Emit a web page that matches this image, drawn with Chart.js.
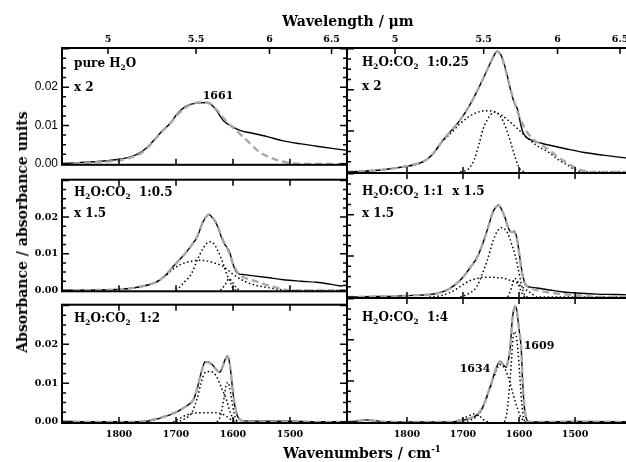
<!DOCTYPE html>
<html>
<head>
<meta charset="utf-8">
<script src="https://cdn.jsdelivr.net/npm/chart.js@4.4.0/dist/chart.umd.min.js"></script>
<style>
  html, body { margin: 0; padding: 0; background: #fff; overflow: hidden; }
  #fig { position: relative; width: 626px; height: 462px; overflow: hidden; }
  canvas { position: absolute; }
  .txt { position: absolute; font-family: "DejaVu Serif", serif; font-weight: bold; color: #000;
         white-space: pre; line-height: 1; }
  .txt sub { font-size: 62%; vertical-align: -3px; line-height: 0; }
  .txt sup { font-size: 62%; vertical-align: 6px; line-height: 0; }
  .c { transform: translate(-50%, -50%); }
  .l { transform: translateY(-50%); font-size: 12px; }
</style>
</head>
<body>
<div id="fig">
  <canvas id="c1" width="350" height="176" style="left:0;top:0"></canvas>
  <canvas id="c2" width="300" height="176" style="left:344px;top:0"></canvas>
  <canvas id="c3" width="350" height="131" style="left:0;top:170px"></canvas>
  <canvas id="c4" width="300" height="131" style="left:344px;top:170px"></canvas>
  <canvas id="c5" width="350" height="167" style="left:0;top:295px"></canvas>
  <canvas id="c6" width="300" height="167" style="left:344px;top:295px"></canvas>

  <div class="txt c" style="left:348px;top:21px;font-size:14px">Wavelength / μm</div>
  <div class="txt c" style="left:362px;top:453px;font-size:14px">Wavenumbers / cm<sup>-1</sup></div>
  <div class="txt c" style="left:22px;top:232px;font-size:14px;transform:translate(-50%,-50%) rotate(-90deg)">Absorbance / absorbance units</div>

  <div class="txt l" style="left:74px;top:63px">pure H<sub>2</sub>O</div>
  <div class="txt l" style="left:74px;top:87px">x 2</div>
  <div class="txt l" style="left:362px;top:62px">H<sub>2</sub>O:CO<sub>2</sub>  1:0.25</div>
  <div class="txt l" style="left:362px;top:86px">x 2</div>
  <div class="txt l" style="left:74px;top:192px">H<sub>2</sub>O:CO<sub>2</sub>  1:0.5</div>
  <div class="txt l" style="left:74px;top:213px">x 1.5</div>
  <div class="txt l" style="left:362px;top:191px">H<sub>2</sub>O:CO<sub>2</sub> 1:1  x 1.5</div>
  <div class="txt l" style="left:362px;top:213px">x 1.5</div>
  <div class="txt l" style="left:74px;top:318px">H<sub>2</sub>O:CO<sub>2</sub>  1:2</div>
  <div class="txt l" style="left:362px;top:317px">H<sub>2</sub>O:CO<sub>2</sub>  1:4</div>

  <div class="txt c" style="left:218px;top:95px;font-size:11px">1661</div>
  <div class="txt c" style="left:475px;top:368px;font-size:11px">1634</div>
  <div class="txt c" style="left:539px;top:345px;font-size:11px">1609</div>
</div>

<script>
// ---- axes ----
const bottomTicks = [1800, 1700, 1600, 1500];          // cm-1
const topTickMicrons = [5, 5.5, 6, 6.5];               // wavelength, um
const topTickLabels = ['5', '5.5', '6', '6.5'];
const yLabelTicks = [0, 0.01, 0.02];
const yMajorTicks = [0, 0.01, 0.02, 0.03];
const yMinorTicks = [0.0025, 0.005, 0.0075, 0.0125, 0.015, 0.0175, 0.0225, 0.025, 0.0275];

// ---- spectra: [wavenumber, absorbance] ----
// pure H2O  (x 2)
const pureObs = [[1900,0.0001],[1860,0.0004],[1820,0.0008],[1800,0.0012],[1780,0.0018],[1760,0.0032],
  [1746,0.0050],[1728,0.0080],[1710,0.0106],[1698,0.0130],[1685,0.0148],[1675,0.0155],[1660,0.0159],
  [1644,0.0160],[1635,0.0150],[1628,0.0137],[1617,0.0113],[1600,0.0096],[1585,0.0086],[1570,0.0081],
  [1540,0.0071],[1512,0.0060],[1480,0.0052],[1453,0.0046],[1420,0.0039],[1400,0.0035]];
const pureFit = [[1900,0],[1840,0.0004],[1800,0.0009],[1780,0.0016],[1760,0.0029],[1746,0.0048],
  [1728,0.0079],[1710,0.0106],[1698,0.0127],[1685,0.0145],[1670,0.0157],[1655,0.0161],[1640,0.0156],
  [1628,0.0140],[1617,0.0120],[1605,0.0101],[1593,0.0085],[1580,0.0067],[1570,0.0053],[1553,0.0030],
  [1537,0.0018],[1523,0.0010],[1500,0.0002],[1480,0],[1400,0]];

// H2O:CO2 1:0.25  (x 2)
const q25Obs = [[1907,0],[1860,0.0003],[1818,0.0010],[1790,0.0017],[1771,0.0025],[1755,0.0042],
  [1736,0.0077],[1720,0.0102],[1705,0.0127],[1690,0.0158],[1680,0.0183],[1666,0.0222],[1652,0.0263],
  [1645,0.0283],[1639,0.0294],[1633,0.0287],[1628,0.0270],[1622,0.0240],[1616,0.0205],[1609,0.0170],
  [1605,0.0160],[1602,0.0150],[1598,0.0123],[1594,0.0100],[1588,0.0086],[1575,0.0076],[1560,0.0070],
  [1545,0.0065],[1515,0.0056],[1486,0.0048],[1450,0.0041],[1402,0.0033],[1380,0.0030]];
const q25Fit = [[1907,0],[1860,0.0003],[1818,0.0010],[1790,0.0017],[1771,0.0025],[1755,0.0042],
  [1736,0.0077],[1720,0.0102],[1705,0.0127],[1690,0.0158],[1680,0.0183],[1666,0.0222],[1652,0.0263],
  [1645,0.0283],[1639,0.0294],[1633,0.0285],[1628,0.0268],[1622,0.0238],[1616,0.0205],[1607,0.0164],
  [1598,0.0130],[1586,0.0098],[1575,0.0080],[1560,0.0066],[1545,0.0052],[1530,0.0036],[1514,0.0022],
  [1500,0.0010],[1486,0.0003],[1470,0],[1380,0]];
const q25Broad = [[1907,0],[1818,0.0010],[1771,0.0025],[1755,0.0042],[1736,0.0075],[1720,0.0097],
  [1705,0.0118],[1690,0.0134],[1675,0.0145],[1660,0.0149],[1645,0.0147],[1630,0.0137],[1616,0.0122],
  [1600,0.0102],[1586,0.0084],[1570,0.0066],[1545,0.0046],[1530,0.0030],[1514,0.0017],[1497,0.0004],
  [1480,0],[1380,0]];
const q25Narrow = [[1705,0],[1690,0.0008],[1680,0.0030],[1672,0.0065],[1664,0.0105],[1652,0.0137],
  [1643,0.0146],[1635,0.0138],[1628,0.0123],[1616,0.0077],[1607,0.0036],[1598,0.0006],[1590,0]];

// H2O:CO2 1:0.5  (x 1.5)
const h05Obs = [[1900,0],[1840,0.0001],[1798,0.0003],[1763,0.0010],[1733,0.0024],[1718,0.0042],
  [1705,0.0065],[1693,0.0085],[1681,0.0106],[1672,0.0125],[1663,0.0145],[1653,0.0186],[1646,0.0203],
  [1642,0.0207],[1636,0.0198],[1628,0.0178],[1622,0.0152],[1617,0.0132],[1611,0.0118],[1606,0.0105],
  [1600,0.0072],[1595,0.0052],[1590,0.0045],[1580,0.0043],[1570,0.0041],[1540,0.0035],[1512,0.0029],
  [1480,0.0025],[1453,0.0022],[1430,0.0017],[1410,0.0012],[1404,0.0014],[1400,0.0011]];
const h05Fit = [[1900,0],[1840,0.0001],[1798,0.0003],[1763,0.0010],[1733,0.0024],[1718,0.0042],
  [1705,0.0065],[1693,0.0085],[1681,0.0106],[1672,0.0125],[1663,0.0147],[1653,0.0186],[1646,0.0203],
  [1642,0.0207],[1636,0.0199],[1628,0.0180],[1622,0.0156],[1617,0.0135],[1611,0.0118],[1606,0.0100],
  [1600,0.0072],[1594,0.0054],[1588,0.0042],[1575,0.0032],[1558,0.0024],[1545,0.0017],[1530,0.0010],
  [1515,0.0004],[1500,0],[1400,0]];
const h05Broad = [[1900,0],[1798,0.0003],[1763,0.0010],[1733,0.0024],[1718,0.0040],[1705,0.0058],
  [1690,0.0072],[1675,0.0079],[1660,0.0082],[1648,0.0081],[1635,0.0076],[1617,0.0065],[1600,0.0044],
  [1580,0.0025],[1560,0.0014],[1540,0.0008],[1515,0.0002],[1500,0],[1400,0]];
const h05Narrow = [[1700,0],[1693,0.0010],[1684,0.0025],[1675,0.0040],[1668,0.0062],[1663,0.0082],
  [1653,0.0113],[1645,0.0130],[1640,0.0133],[1634,0.0128],[1628,0.0113],[1617,0.0072],[1610,0.0040],
  [1605,0.0024],[1600,0.0005],[1595,0]];
const h05Small = [[1622,0],[1614,0.0015],[1607,0.0032],[1600,0.0020],[1593,0.0005],[1588,0]];

// H2O:CO2 1:1  (x 1.5)
const h1Obs = [[1907,0],[1860,0.0001],[1818,0.0002],[1790,0.0004],[1759,0.0006],[1740,0.0011],
  [1728,0.0017],[1714,0.0030],[1700,0.0048],[1688,0.0070],[1675,0.0096],[1668,0.0118],[1661,0.0145],
  [1654,0.0175],[1648,0.0202],[1642,0.0218],[1637,0.0224],[1631,0.0213],[1625,0.0193],[1619,0.0168],
  [1614,0.0158],[1609,0.0160],[1605,0.0150],[1602,0.0130],[1599,0.0100],[1596,0.0072],[1592,0.0045],
  [1589,0.0030],[1580,0.0024],[1568,0.0022],[1545,0.0017],[1521,0.0012],[1490,0.0009],[1461,0.0007],
  [1430,0.0006],[1402,0.0005],[1380,0.0004]];
const h1Fit = [[1907,0],[1818,0.0002],[1790,0.0004],[1759,0.0006],[1740,0.0011],[1728,0.0017],
  [1714,0.0030],[1700,0.0048],[1688,0.0070],[1675,0.0096],[1668,0.0118],[1661,0.0145],[1654,0.0175],
  [1648,0.0202],[1642,0.0218],[1637,0.0223],[1631,0.0212],[1625,0.0192],[1619,0.0168],[1614,0.0158],
  [1609,0.0158],[1605,0.0148],[1602,0.0128],[1599,0.0098],[1596,0.0068],[1592,0.0042],[1588,0.0030],
  [1580,0.0022],[1560,0.0014],[1540,0.0010],[1521,0.0007],[1490,0.0003],[1460,0],[1380,0]];
const h1Broad = [[1760,0],[1740,0.0003],[1725,0.0010],[1711,0.0020],[1700,0.0030],[1687,0.0040],
  [1675,0.0045],[1664,0.0048],[1650,0.0048],[1640,0.0047],[1628,0.0046],[1615,0.0040],[1603,0.0034],
  [1595,0.0025],[1586,0.0016],[1575,0.0006],[1568,0],[1380,0]];
const h1Narrow = [[1705,0],[1690,0.0008],[1675,0.0026],[1666,0.0055],[1657,0.0088],[1646,0.0138],
  [1638,0.0162],[1630,0.0169],[1624,0.0163],[1619,0.0152],[1613,0.0128],[1607,0.0102],[1602,0.0072],
  [1598,0.0046],[1594,0.0020],[1590,0.0005],[1585,0]];
const h1Small = [[1620,0],[1614,0.0020],[1608,0.0045],[1603,0.0040],[1597,0.0015],[1590,0]];

// H2O:CO2 1:2
const h2Obs = [[1900,0.0002],[1850,0.0001],[1800,0.0001],[1758,0.0001],[1740,0.0005],[1728,0.0010],
  [1712,0.0018],[1698,0.0026],[1685,0.0038],[1675,0.0048],[1670,0.0055],[1663,0.0085],[1658,0.0115],
  [1653,0.0142],[1649,0.0155],[1644,0.0155],[1638,0.0150],[1633,0.0142],[1627,0.0132],[1623,0.0128],
  [1619,0.0140],[1614,0.0160],[1610,0.0170],[1607,0.0160],[1604,0.0130],[1600,0.0075],[1596,0.0035],
  [1593,0.0018],[1588,0.0006],[1580,0.0003],[1540,0.0002],[1500,0.0002],[1450,0.0001],[1400,0.0001]];
const h2Fit = [[1900,0],[1800,0],[1758,0.0002],[1740,0.0006],[1728,0.0011],[1712,0.0019],
  [1698,0.0027],[1685,0.0038],[1675,0.0049],[1670,0.0057],[1663,0.0086],[1658,0.0115],[1653,0.0141],
  [1649,0.0153],[1644,0.0154],[1638,0.0149],[1633,0.0141],[1627,0.0131],[1623,0.0128],[1619,0.0139],
  [1614,0.0159],[1610,0.0169],[1607,0.0160],[1604,0.0132],[1600,0.0078],[1596,0.0038],[1593,0.0020],
  [1588,0.0007],[1580,0.0002],[1560,0],[1400,0]];
const h2A = [[1700,0],[1685,0.0008],[1672,0.0025],[1663,0.0060],[1656,0.0100],[1650,0.0126],
  [1640,0.0130],[1630,0.0120],[1620,0.0087],[1611,0.0055],[1605,0.0025],[1598,0.0006],[1592,0]];
const h2B = [[1628,0],[1622,0.0015],[1616,0.0060],[1612,0.0095],[1609,0.0102],[1606,0.0090],
  [1602,0.0055],[1598,0.0022],[1594,0.0005],[1590,0]];
const h2C = [[1705,0],[1695,0.0008],[1685,0.0016],[1672,0.0022],[1655,0.0024],[1635,0.0024],
  [1622,0.0022],[1612,0.0015],[1603,0.0006],[1596,0]];

// H2O:CO2 1:4
const h4Obs = [[1907,0],[1890,0.0002],[1875,0.0005],[1860,0.0004],[1845,0.0001],[1800,0],[1723,0],
  [1705,0.0003],[1693,0.0007],[1680,0.0013],[1670,0.0023],[1662,0.0045],[1655,0.0072],[1648,0.0100],
  [1643,0.0123],[1638,0.0140],[1634,0.0148],[1630,0.0144],[1626,0.0136],[1623,0.0133],[1620,0.0145],
  [1616,0.0177],[1612,0.0250],[1609,0.0276],[1607,0.0282],[1604,0.0272],[1602,0.0250],[1599,0.0215],
  [1596,0.0177],[1594,0.0110],[1592,0.0060],[1589,0.0020],[1586,0.0005],[1582,0],[1500,0.0001],[1380,0]];
const h4Fit = [[1907,0],[1890,0.0002],[1875,0.0004],[1860,0.0003],[1845,0],[1723,0],[1705,0.0003],
  [1693,0.0007],[1680,0.0014],[1670,0.0025],[1662,0.0046],[1655,0.0072],[1648,0.0100],[1643,0.0122],
  [1638,0.0139],[1634,0.0146],[1630,0.0143],[1626,0.0136],[1623,0.0134],[1620,0.0146],[1616,0.0178],
  [1612,0.0248],[1609,0.0275],[1607,0.0281],[1604,0.0271],[1602,0.0250],[1599,0.0216],[1596,0.0178],
  [1594,0.0115],[1592,0.0064],[1589,0.0022],[1586,0.0006],[1582,0],[1380,0]];
const h4A = [[1700,0],[1685,0.0006],[1672,0.0018],[1663,0.0040],[1655,0.0070],[1647,0.0100],
  [1640,0.0128],[1634,0.0140],[1628,0.0135],[1622,0.0120],[1616,0.0095],[1610,0.0065],[1604,0.0038],
  [1598,0.0015],[1592,0.0003],[1588,0]];
const h4B = [[1626,0],[1622,0.0020],[1618,0.0070],[1614,0.0140],[1611,0.0200],[1608,0.0220],
  [1605,0.0210],[1602,0.0175],[1599,0.0120],[1596,0.0060],[1593,0.0020],[1590,0]];
const h4C = [[1715,0],[1700,0.0008],[1688,0.0016],[1678,0.0020],[1670,0.0014],[1662,0.0004],[1655,0]];

// ---- drawing ----
const serifTick = { family: 'DejaVu Serif', weight: 'bold', size: 9.5 };
const sansTick = { family: 'Liberation Sans', size: 12 };

function line(points, kind) {
  const d = {
    data: points.map(p => ({ x: p[0], y: p[1] })),
    borderColor: '#000', borderWidth: 1.4, pointRadius: 0, fill: false,
    tension: 0.4, cubicInterpolationMode: 'monotone'
  };
  if (kind === 'fit') Object.assign(d, { borderColor: '#a8a8a8', borderWidth: 2.4, borderDash: [7, 4] });
  if (kind === 'comp') Object.assign(d, { borderWidth: 1.5, borderDash: [1.5, 2.5] });
  return d;
}

// inward tick marks and the box round each panel
const frameTicks = {
  id: 'frameTicks',
  afterDatasetsDraw(chart, args, opts) {
    const { ctx, chartArea: a, scales } = chart;
    const top = scales[opts.topScale];
    const topVals = opts.topScale === 'x2' ? topTickMicrons.map(m => 10000 / m) : bottomTicks;
    ctx.save();
    ctx.strokeStyle = '#000';
    ctx.lineWidth = 1.5;
    ctx.beginPath();
    const yTick = (v, len) => {
      const py = scales.y.getPixelForValue(v);
      ctx.moveTo(a.left, py); ctx.lineTo(a.left + len, py);
      ctx.moveTo(a.right, py); ctx.lineTo(a.right - len, py);
    };
    yMajorTicks.forEach(v => yTick(v, 7));
    yMinorTicks.forEach(v => yTick(v, 4));
    bottomTicks.forEach(v => {
      const px = scales.x.getPixelForValue(v);
      ctx.moveTo(px, a.bottom); ctx.lineTo(px, a.bottom - 6);
    });
    topVals.forEach(v => {
      const px = top.getPixelForValue(v);
      ctx.moveTo(px, a.top); ctx.lineTo(px, a.top + 6);
    });
    ctx.stroke();
    ctx.lineWidth = 2;
    ctx.strokeRect(a.left, a.top, a.right - a.left, a.bottom - a.top);
    ctx.restore();
  }
};

const panels = [
  { id: 'c1', col: 0, row: 0, obs: pureObs, fit: pureFit, comps: [] },
  { id: 'c2', col: 1, row: 0, obs: q25Obs, fit: q25Fit, comps: [q25Broad, q25Narrow] },
  { id: 'c3', col: 0, row: 1, obs: h05Obs, fit: h05Fit, comps: [h05Broad, h05Narrow, h05Small] },
  { id: 'c4', col: 1, row: 1, obs: h1Obs, fit: h1Fit, comps: [h1Broad, h1Narrow, h1Small] },
  { id: 'c5', col: 0, row: 2, obs: h2Obs, fit: h2Fit, comps: [h2A, h2B, h2C] },
  { id: 'c6', col: 1, row: 2, obs: h4Obs, fit: h4Fit, comps: [h4A, h4B, h4C] }
];

const noGrid = { display: false, drawTicks: false };

panels.forEach(p => {
  const left = p.col === 0;
  const bottomRow = p.row === 2;
  const scales = {
    x: {
      type: 'linear', reverse: true,
      min: left ? 1400 : 1377, max: left ? 1900 : 1907,
      display: bottomRow,
      grid: noGrid, border: { display: false },
      ticks: { font: serifTick, color: '#000', padding: 6, maxRotation: 0, callback: v => String(v) },
      afterBuildTicks: s => { s.ticks = bottomTicks.map(v => ({ value: v })); },
      afterFit: s => { s.height = bottomRow ? 39 : 0; }
    },
    y: {
      min: -0.00025, max: 0.0302,
      display: left,
      grid: noGrid, border: { display: false },
      ticks: { font: p.row === 0 ? sansTick : serifTick, color: '#000', padding: 4,
               callback: v => v.toFixed(2) },
      afterBuildTicks: s => { s.ticks = yLabelTicks.map(v => ({ value: v })); },
      afterFit: s => { s.width = left ? 62 : 0; }
    }
  };
  if (p.row === 0) {
    scales.x2 = {
      type: 'linear', axis: 'x', position: 'top', reverse: true,
      min: left ? 1506.6 : 1489.3, max: left ? 2095 : 2098.5,
      grid: noGrid, border: { display: false },
      ticks: { font: serifTick, color: '#000', padding: 3, maxRotation: 0,
               callback: (v, i) => topTickLabels[i] },
      afterBuildTicks: s => { s.ticks = topTickMicrons.map(m => ({ value: 10000 / m })); },
      afterFit: s => { s.height = 48; }
    };
  }
  const pad = {
    left: left ? 0 : 3, right: left ? 3 : 0,
    top: p.row === 0 ? 0 : 3, bottom: bottomRow ? 0 : 3
  };
  new Chart(document.getElementById(p.id), {
    type: 'line',
    data: { datasets: [line(p.fit, 'fit'), line(p.obs, 'obs')].concat(p.comps.map(c => line(c, 'comp'))) },
    options: {
      responsive: false, animation: false,
      layout: { padding: pad },
      plugins: { legend: { display: false }, tooltip: { enabled: false },
                 frameTicks: { topScale: p.row === 0 ? 'x2' : 'x' } },
      scales: scales
    },
    plugins: [frameTicks]
  });
});
</script>
</body>
</html>
